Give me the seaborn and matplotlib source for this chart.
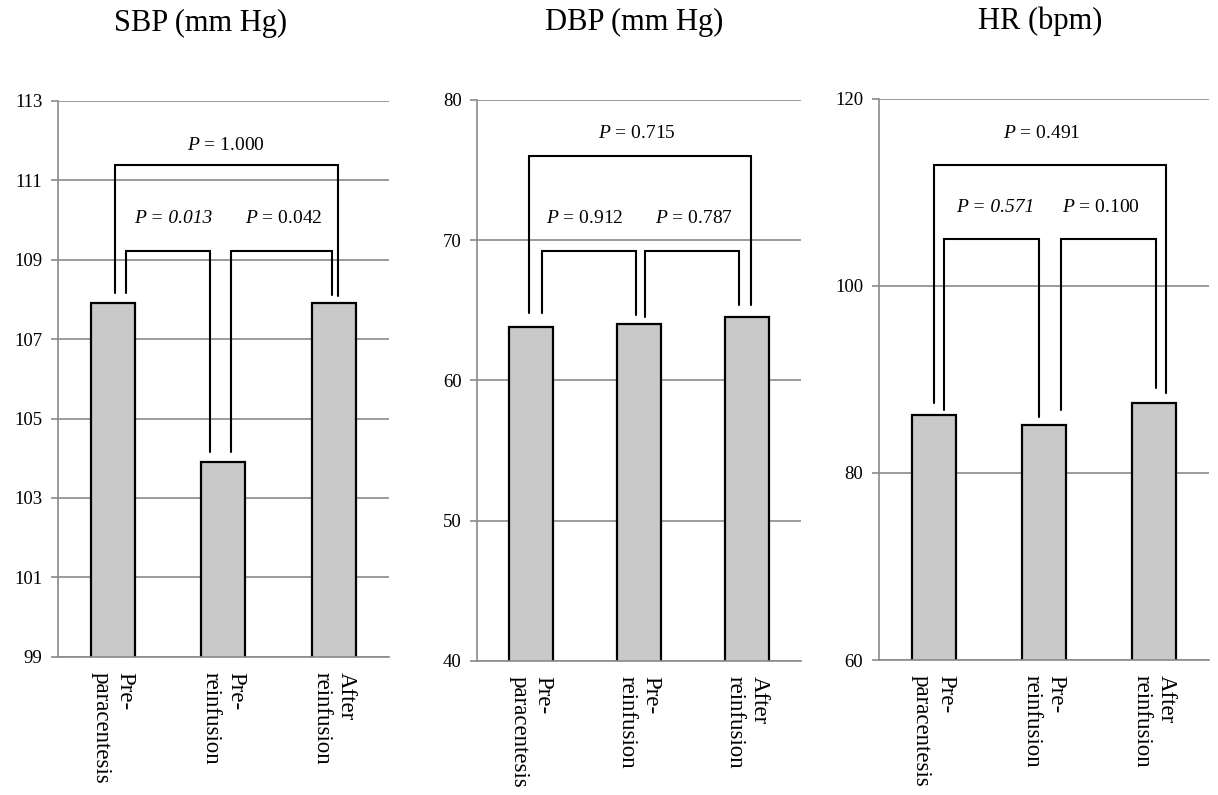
import matplotlib
matplotlib.use("Agg")
import matplotlib.pyplot as plt
import seaborn as sns

# categories and bar heights
groups = ["Pre-\nparacentesis", "Pre-\nreinfusion", "After\nreinfusion"]
titles = ["SBP (mm Hg)", "DBP (mm Hg)", "HR (bpm)"]
sbp = [107.9, 103.9, 107.9]
dbp = [63.8, 64.0, 64.5]
hr = [86.2, 85.1, 87.5]

# y axis ranges / ticks
sbp_ticks = [99, 101, 103, 105, 107, 109, 111, 113]
dbp_ticks = [40, 50, 60, 70, 80]
hr_ticks = [60, 80, 100, 120]

# brackets: (x_left, x_right, top, left_bottom, right_bottom)
sbp_brackets = [(0.02, 2.04, 111.39, 108.17, 108.09),
                (0.115, 0.88, 109.23, 108.16, 104.16),
                (1.073, 1.98, 109.23, 104.16, 108.11)]
dbp_brackets = [(-0.016, 2.04, 76.0, 64.8, 65.4),
                (0.10, 0.97, 69.2, 64.8, 64.7),
                (1.06, 1.93, 69.2, 64.5, 65.4)]
hr_brackets = [(0.0, 2.11, 112.9, 87.45, 88.6),
               (0.097, 0.96, 105.0, 86.7, 85.96),
               (1.16, 2.02, 105.0, 86.7, 89.06)]

# p-values: (text, italic number, x, y)
sbp_p = [("1.000", False, 1.02, 111.87), ("0.013", True, 0.545, 110.05), ("0.042", False, 1.545, 110.05)]
dbp_p = [("0.715", False, 0.98, 77.6), ("0.912", False, 0.50, 71.55), ("0.787", False, 1.51, 71.55)]
hr_p = [("0.491", False, 0.985, 116.3), ("0.571", True, 0.555, 108.4), ("0.100", False, 1.52, 108.4)]

sns.set_style("white")
plt.rcParams["font.family"] = ["Liberation Serif", "DejaVu Serif"]
plt.rcParams["mathtext.fontset"] = "custom"
plt.rcParams["mathtext.rm"] = "Liberation Serif"
plt.rcParams["mathtext.it"] = "Liberation Serif:italic"
plt.rcParams["text.color"] = "black"

fig = plt.figure(figsize=(12.18, 7.95), dpi=100)
positions = [[0.0474, 0.174, 0.272, 0.699],
             [0.3916, 0.1686, 0.266, 0.7057],
             [0.7213, 0.1698, 0.2713, 0.7057]]
title_x = [0.43, 0.485, 0.49]

panels = [(sbp, sbp_ticks, sbp_brackets, sbp_p),
          (dbp, dbp_ticks, dbp_brackets, dbp_p),
          (hr, hr_ticks, hr_brackets, hr_p)]

grey = "#8a8a8a"
for k, (vals, ticks, brackets, pvals) in enumerate(panels):
    ax = fig.add_axes(positions[k])
    sns.barplot(x=groups, y=vals, color="#c9c9c9", saturation=1, width=0.4,
                edgecolor="black", linewidth=1.6, ax=ax)
    ax.set_ylim(ticks[0], ticks[-1])
    ax.set_xlim(-0.5, 2.5)
    ax.set_yticks(ticks)
    ax.set_axisbelow(True)
    ax.yaxis.grid(True, color=grey, linewidth=1.2)
    for side in ["top", "right"]:
        ax.spines[side].set_visible(False)
    for side in ["left", "bottom"]:
        ax.spines[side].set_color(grey)
        ax.spines[side].set_linewidth(1.2)
    ax.tick_params(axis="y", length=5, width=1.2, color=grey, labelcolor="black",
                   pad=6, labelsize=13.5, left=True)
    ax.tick_params(axis="x", length=0, pad=11, labelsize=16.5, labelcolor="black")
    plt.setp(ax.get_xticklabels(), rotation=270, ha="center", va="top", multialignment="left")
    ax.set_ylabel("")

    for x0, x1, top, b0, b1 in brackets:
        ax.plot([x0, x0, x1, x1], [b0, top, top, b1], color="black", lw=1.5,
                solid_joinstyle="miter")
    for txt, ital, x, y in pvals:
        if ital:
            ax.text(x, y, "P = " + txt, ha="center", va="center", fontsize=14,
                    fontstyle="italic")
        else:
            ax.text(x, y, r"$P$ = " + txt, ha="center", va="center", fontsize=14)

    ax.text(title_x[k], 1.0 + 70 / (795 * positions[k][3]), titles[k], transform=ax.transAxes,
            ha="center", va="baseline", fontsize=22)

fig.savefig("out.png", dpi=100)
